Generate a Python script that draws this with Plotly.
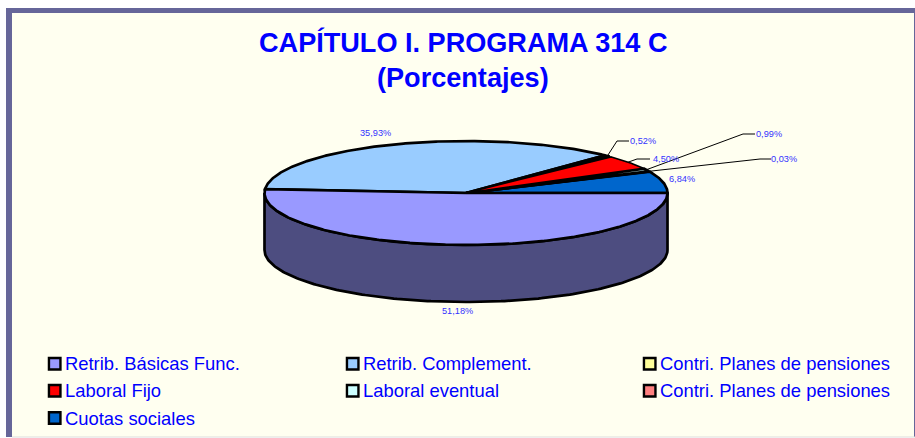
import math
import plotly.graph_objects as go

# ---- data ----
categories = ["Retrib. Básicas Func.", "Retrib. Complement.", "Contri. Planes de pensiones",
              "Laboral Fijo", "Laboral eventual", "Contri. Planes de pensiones", "Cuotas sociales"]
values = [51.18, 35.93, 0.52, 4.50, 0.99, 0.03, 6.84]
value_labels = ["51,18%", "35,93%", "0,52%", "4,50%", "0,99%", "0,03%", "6,84%"]
colors = ["#9999FF", "#99CCFF", "#FFFF99", "#FF0000", "#CCFFFF", "#FF8080", "#0066CC"]
title_lines = ["CAPÍTULO I. PROGRAMA 314 C", "(Porcentajes)"]

# ---- geometry / style ----
W, H = 915, 438
CX, CY, RX, RY, DEPTH = 466, 193, 201.5, 52, 57
WALL = "#4D4D80"
LABEL_BLUE = "#3333FF"
TEXT_BLUE = "#0000FF"
FONT = "Liberation Sans, Arial, sans-serif"
OUTLINE = dict(color="black", width=2.7)
THIN_OUTLINE = dict(color="black", width=1.6)


def pt(deg, dy=0):
    a = math.radians(deg)
    return CX + RX * math.cos(a), CY + RY * math.sin(a) + dy


def arc(a0, a1, dy=0, step=1.0):
    n = max(2, int(abs(a1 - a0) / step) + 1)
    return [pt(a0 + (a1 - a0) * i / (n - 1), dy) for i in range(n)]


total = sum(values)
starts, ends = [], []
acc = 0.0
for v in values:
    starts.append(acc / total * 360)
    acc += v
    ends.append(acc / total * 360)

fig = go.Figure()

# wall of the cylinder: the front half, coloured by the slice that faces the viewer
front = arc(0, 180)
back = arc(180, 0, DEPTH)
poly = front + back + [front[0]]
fig.add_trace(go.Scatter(x=[p[0] for p in poly], y=[p[1] for p in poly], mode="lines",
                         fill="toself", fillcolor=WALL, line=OUTLINE, hoverinfo="skip", showlegend=False))

# top slices (the red one last among the small ones, so that its fill stays on top)
for i in [1, 6, 5, 4, 2, 3, 0]:
    ring = arc(starts[i], ends[i], step=0.5)
    poly = [(CX, CY)] + ring + [(CX, CY)]
    fig.add_trace(go.Scatter(x=[p[0] for p in poly], y=[p[1] for p in poly], mode="lines",
                             fill="toself", fillcolor=colors[i],
                             line=THIN_OUTLINE if i == 3 else OUTLINE,
                             name=categories[i], text=value_labels[i], hoverinfo="name+text",
                             showlegend=False))

# leader lines: elbow position and label position per small slice
leaders = {2: [(617, 141), (629, 141)],
           3: [(637, 159), (650, 159)],
           4: [(743, 134), (755, 134)],
           5: [(760, 159), (771, 159)]}
for i, pts in leaders.items():
    mid = (starts[i] + ends[i]) / 2
    s = pt(mid)
    xs = [s[0]] + [p[0] for p in pts]
    ys = [s[1]] + [p[1] for p in pts]
    fig.add_trace(go.Scatter(x=xs, y=ys, mode="lines", line=dict(color="black", width=1),
                             hoverinfo="skip", showlegend=False))

annotations = []
label_pos = {0: (457, 311, "center"), 1: (375, 133, "center"), 2: (628, 141, "left"),
             3: (650.5, 159, "left"), 4: (754, 134, "left"), 5: (769, 159, "left"), 6: (667, 179, "left")}
for i, (x, y, anchor) in label_pos.items():
    annotations.append(dict(x=x, y=y, xref="x", yref="y", text=value_labels[i], showarrow=False,
                            xanchor=anchor, yanchor="middle",
                            font=dict(family=FONT, size=9.2, color=LABEL_BLUE)))

for line, y in zip(title_lines, [42, 77.5]):
    annotations.append(dict(x=463, y=y, xref="x", yref="y", text=f"<b>{line}</b>", showarrow=False,
                            xanchor="center", yanchor="middle",
                            font=dict(family=FONT, size=27.1, color=TEXT_BLUE)))

# legend: three columns, three rows
col_x = [54.7, 352.7, 649.7]
row_y = [363.7, 390.7, 418]
legend_pos = [(0, 0), (1, 0), (2, 0), (0, 1), (1, 1), (2, 1), (0, 2)]
fig.add_trace(go.Scatter(
    x=[col_x[c] for c, r in legend_pos], y=[row_y[r] for c, r in legend_pos], mode="markers",
    marker=dict(symbol="square", size=11.5, color=colors, line=dict(color="black", width=2.4)),
    hoverinfo="skip", showlegend=False))
for name, (c, r) in zip(categories, legend_pos):
    annotations.append(dict(x=col_x[c] + 8.6, y=row_y[r], xref="x", yref="y", text=name,
                            showarrow=False, xanchor="left", yanchor="middle",
                            font=dict(family=FONT, size=18.4, color=TEXT_BLUE)))

shapes = [
    dict(type="rect", xref="x", yref="y", x0=6, x1=915, y0=8, y1=437, layer="below",
         fillcolor="#666699", line=dict(width=0)),
    dict(type="rect", xref="x", yref="y", x0=12, x1=914, y0=13, y1=437, layer="below",
         fillcolor="#FFFFF0", line=dict(width=0)),
    dict(type="line", xref="x", yref="y", x0=12, x1=915, y0=437, y1=437, layer="below",
         line=dict(color="#DDDDDD", width=1)),
]

fig.update_layout(
    width=W, height=H, margin=dict(l=0, r=0, t=0, b=0), autosize=False,
    paper_bgcolor="white", plot_bgcolor="white", showlegend=False,
    xaxis=dict(range=[0, W], visible=False, fixedrange=True),
    yaxis=dict(range=[H, 0], visible=False, fixedrange=True),
    annotations=annotations, shapes=shapes,
)

fig.write_html("out.html", config={"displayModeBar": False},
               post_script="document.body.style.margin='0';document.documentElement.style.overflow='hidden';")
